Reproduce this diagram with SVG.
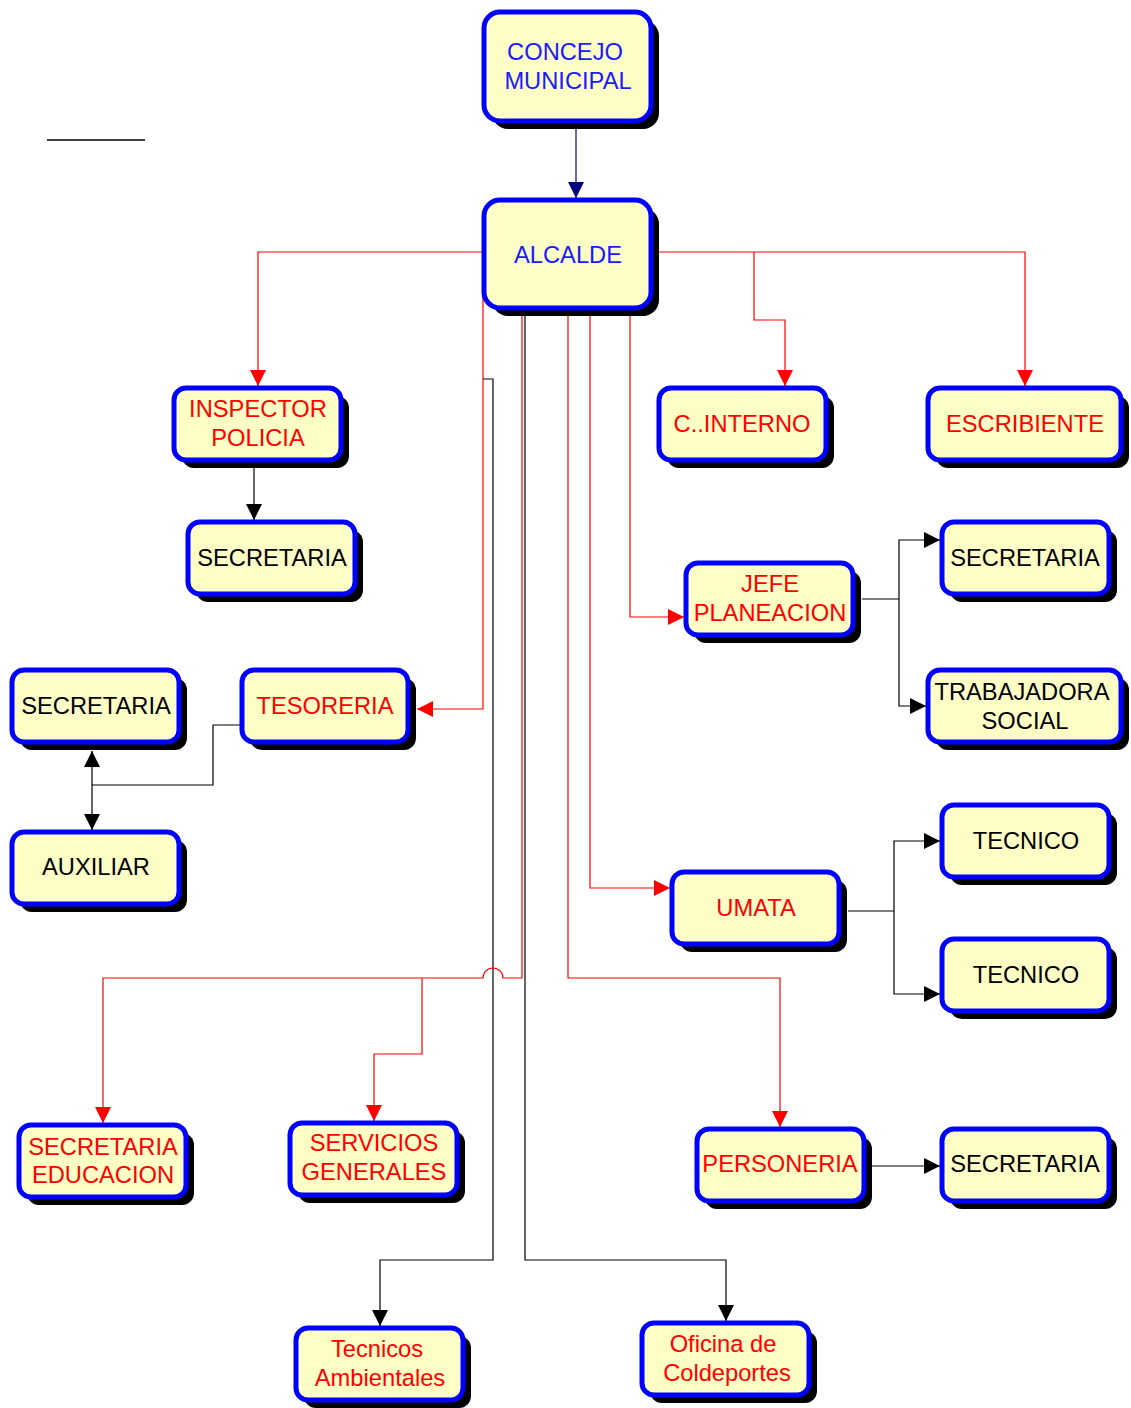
<svg xmlns="http://www.w3.org/2000/svg" width="1131" height="1408" viewBox="0 0 1131 1408">
<style>
.sh{fill:#000}
.bx{fill:#fdfdc6;stroke:#0000ff;stroke-width:5}
text{font-family:"Liberation Sans",Arial,sans-serif;font-size:23.7px;text-anchor:middle}
.b{fill:#1a1aff}.r{fill:#ff0000}.k{fill:#000}
.lr{fill:none;stroke:#ff0000;stroke-width:1.2}
.lk{fill:none;stroke:#000;stroke-width:1.2}
.ln{fill:none;stroke:#000080;stroke-width:1.2}
</style>
<defs>
<marker id="ar" markerUnits="userSpaceOnUse" markerWidth="16" markerHeight="16" viewBox="0 0 16 16" refX="16" refY="8" orient="auto"><path d="M0,0L16,8L0,16z" fill="#ff0000"/></marker>
<marker id="ak" markerUnits="userSpaceOnUse" markerWidth="16" markerHeight="16" viewBox="0 0 16 16" refX="16" refY="8" orient="auto-start-reverse"><path d="M0,0L16,8L0,16z" fill="#000"/></marker>
<marker id="an" markerUnits="userSpaceOnUse" markerWidth="16" markerHeight="16" viewBox="0 0 16 16" refX="16" refY="8" orient="auto"><path d="M0,0L16,8L0,16z" fill="#000080"/></marker>
</defs>
<rect width="1131" height="1408" fill="#fff"/>
<line x1="47" y1="140" x2="145" y2="140" stroke="#000" stroke-width="1.5"/>
<g id="connectors">
<path class="ln" d="M576,123V198" marker-end="url(#an)"/>
<path class="lr" d="M482,252H258V386" marker-end="url(#ar)"/>
<path class="lr" d="M653,252H1025V386" marker-end="url(#ar)"/>
<path class="lr" d="M754,252V320H785V386" marker-end="url(#ar)"/>
<path class="lk" d="M254,462V520" marker-end="url(#ak)"/>
<path class="lr" d="M483,295V709H417" marker-end="url(#ar)"/>
<path class="lk" d="M483,379H493V1260H380V1326" marker-end="url(#ak)"/>
<path class="lr" d="M522,315V978H503A10,10 0 0 0 483,978H103V1123" marker-end="url(#ar)"/>
<path class="lr" d="M422,978V1054H374V1121" marker-end="url(#ar)"/>
<path class="lk" d="M525,315V1260H726V1321" marker-end="url(#ak)"/>
<path class="lr" d="M568,315V978H780V1127" marker-end="url(#ar)"/>
<path class="lr" d="M590,315V888H670" marker-end="url(#ar)"/>
<path class="lr" d="M630,315V617H684" marker-end="url(#ar)"/>
<path class="lk" d="M862,599H899"/>
<path class="lk" d="M899,599V540H940" marker-end="url(#ak)"/>
<path class="lk" d="M899,599V706H926" marker-end="url(#ak)"/>
<path class="lk" d="M848,911H894"/>
<path class="lk" d="M894,911V841H940" marker-end="url(#ak)"/>
<path class="lk" d="M894,911V994H940" marker-end="url(#ak)"/>
<path class="lk" d="M872,1166H940" marker-end="url(#ak)"/>
<path class="lk" d="M240,725H213V785H92"/>
<path class="lk" d="M92,751V830" marker-start="url(#ak)" marker-end="url(#ak)"/>
</g>
<g id="concejo"><rect class="sh" x="492" y="20" width="167" height="109" rx="16"/><rect class="bx" x="484" y="12" width="167" height="109" rx="16"/><text class="b" x="565" y="60">CONCEJO</text><text class="b" x="568" y="89">MUNICIPAL</text></g>
<g id="alcalde"><rect class="sh" x="492" y="208" width="167" height="108" rx="16"/><rect class="bx" x="484" y="200" width="167" height="108" rx="16"/><text class="b" x="568" y="263">ALCALDE</text></g>
<g id="inspector"><rect class="sh" x="182" y="396" width="167" height="72" rx="12"/><rect class="bx" x="174" y="388" width="167" height="72" rx="12"/><text class="r" x="258" y="417">INSPECTOR</text><text class="r" x="258" y="446">POLICIA</text></g>
<g id="secretaria1"><rect class="sh" x="196" y="530" width="167" height="72" rx="12"/><rect class="bx" x="188" y="522" width="167" height="72" rx="12"/><text class="k" x="272" y="566">SECRETARIA</text></g>
<g id="cinterno"><rect class="sh" x="667" y="396" width="167" height="72" rx="12"/><rect class="bx" x="659" y="388" width="167" height="72" rx="12"/><text class="r" x="742" y="432">C..INTERNO</text></g>
<g id="escribiente"><rect class="sh" x="936" y="396" width="193" height="72" rx="12"/><rect class="bx" x="928" y="388" width="193" height="72" rx="12"/><text class="r" x="1025" y="432">ESCRIBIENTE</text></g>
<g id="jefe"><rect class="sh" x="694" y="571" width="167" height="72" rx="12"/><rect class="bx" x="686" y="563" width="167" height="72" rx="12"/><text class="r" x="770" y="592">JEFE</text><text class="r" x="770" y="621">PLANEACION</text></g>
<g id="secretaria2"><rect class="sh" x="950" y="530" width="167" height="72" rx="12"/><rect class="bx" x="942" y="522" width="167" height="72" rx="12"/><text class="k" x="1025" y="566">SECRETARIA</text></g>
<g id="trabajadora"><rect class="sh" x="936" y="678" width="193" height="72" rx="12"/><rect class="bx" x="928" y="670" width="193" height="72" rx="12"/><text class="k" x="1022" y="700">TRABAJADORA</text><text class="k" x="1025" y="729">SOCIAL</text></g>
<g id="secretaria3"><rect class="sh" x="20" y="678" width="167" height="72" rx="12"/><rect class="bx" x="12" y="670" width="167" height="72" rx="12"/><text class="k" x="96" y="714">SECRETARIA</text></g>
<g id="tesoreria"><rect class="sh" x="250" y="678" width="166" height="72" rx="12"/><rect class="bx" x="242" y="670" width="166" height="72" rx="12"/><text class="r" x="325" y="714">TESORERIA</text></g>
<g id="auxiliar"><rect class="sh" x="20" y="840" width="167" height="72" rx="12"/><rect class="bx" x="12" y="832" width="167" height="72" rx="12"/><text class="k" x="96" y="875">AUXILIAR</text></g>
<g id="tecnico1"><rect class="sh" x="950" y="813" width="167" height="72" rx="12"/><rect class="bx" x="942" y="805" width="167" height="72" rx="12"/><text class="k" x="1026" y="849">TECNICO</text></g>
<g id="umata"><rect class="sh" x="680" y="880" width="167" height="72" rx="12"/><rect class="bx" x="672" y="872" width="167" height="72" rx="12"/><text class="r" x="756" y="916">UMATA</text></g>
<g id="tecnico2"><rect class="sh" x="950" y="947" width="167" height="72" rx="12"/><rect class="bx" x="942" y="939" width="167" height="72" rx="12"/><text class="k" x="1026" y="983">TECNICO</text></g>
<g id="educacion"><rect class="sh" x="27" y="1133" width="167" height="72" rx="12"/><rect class="bx" x="19" y="1125" width="167" height="72" rx="12"/><text class="r" x="103" y="1155">SECRETARIA</text><text class="r" x="103" y="1183">EDUCACION</text></g>
<g id="servicios"><rect class="sh" x="298" y="1131" width="167" height="72" rx="12"/><rect class="bx" x="290" y="1123" width="167" height="72" rx="12"/><text class="r" x="374" y="1151">SERVICIOS</text><text class="r" x="374" y="1180">GENERALES</text></g>
<g id="personeria"><rect class="sh" x="705" y="1137" width="167" height="72" rx="12"/><rect class="bx" x="697" y="1129" width="167" height="72" rx="12"/><text class="r" x="780" y="1172">PERSONERIA</text></g>
<g id="secretaria4"><rect class="sh" x="950" y="1137" width="167" height="72" rx="12"/><rect class="bx" x="942" y="1129" width="167" height="72" rx="12"/><text class="k" x="1025" y="1172">SECRETARIA</text></g>
<g id="ambientales"><rect class="sh" x="304" y="1336" width="167" height="72" rx="12"/><rect class="bx" x="296" y="1328" width="167" height="72" rx="12"/><text class="r" x="377" y="1357">Tecnicos</text><text class="r" x="380" y="1386">Ambientales</text></g>
<g id="coldeportes"><rect class="sh" x="650" y="1331" width="167" height="72" rx="12"/><rect class="bx" x="642" y="1323" width="167" height="72" rx="12"/><text class="r" x="723" y="1352">Oficina de</text><text class="r" x="727" y="1381">Coldeportes</text></g>
</svg>
